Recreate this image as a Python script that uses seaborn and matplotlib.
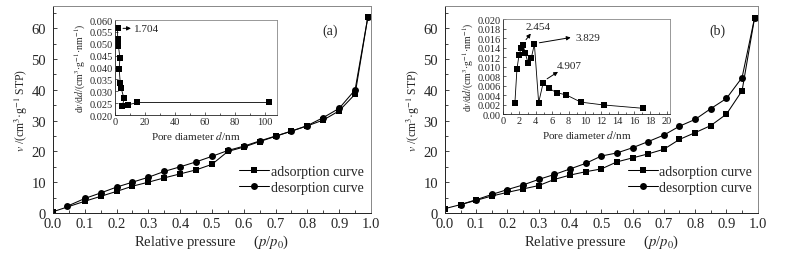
import numpy as np
import pandas as pd
import matplotlib
matplotlib.use('Agg')
import matplotlib.pyplot as plt
import seaborn as sns
from matplotlib.ticker import MultipleLocator

# isotherm data, panel (a)
p_ads_a = [0.0, 0.1, 0.15, 0.2, 0.25, 0.3, 0.35, 0.4, 0.45, 0.5, 0.55, 0.6, 0.65, 0.7, 0.75, 0.8, 0.85, 0.9, 0.95, 0.99]
v_ads_a = [0.4, 3.8, 5.4, 7.0, 8.7, 10.0, 11.4, 12.7, 14.0, 15.8, 20.0, 21.4, 23.2, 24.9, 26.6, 28.3, 30.2, 33.2, 38.6, 63.6]
p_des_a = [0.045, 0.1, 0.15, 0.2, 0.25, 0.3, 0.35, 0.4, 0.45, 0.5, 0.55, 0.6, 0.65, 0.7, 0.75, 0.8, 0.85, 0.9, 0.95, 0.99]
v_des_a = [2.2, 4.7, 6.5, 8.4, 10.0, 11.6, 13.5, 15.0, 16.6, 18.4, 20.3, 21.7, 23.4, 25.0, 26.6, 28.4, 31.0, 34.0, 40.0, 63.6]

# isotherm data, panel (b)
p_ads_b = [0.0, 0.05, 0.1, 0.15, 0.2, 0.25, 0.3, 0.35, 0.4, 0.45, 0.5, 0.55, 0.6, 0.65, 0.7, 0.75, 0.8, 0.85, 0.9, 0.95, 0.99]
v_ads_b = [1.4, 2.7, 4.1, 5.5, 6.7, 7.8, 8.9, 10.9, 12.3, 13.4, 14.3, 16.6, 17.9, 19.2, 20.7, 23.9, 26.1, 28.4, 32.1, 39.7, 63.4]
p_des_b = [0.05, 0.1, 0.15, 0.2, 0.25, 0.3, 0.35, 0.4, 0.45, 0.5, 0.55, 0.6, 0.65, 0.7, 0.75, 0.8, 0.85, 0.9, 0.95, 0.99]
v_des_b = [2.7, 4.3, 6.0, 7.6, 9.1, 10.9, 12.5, 14.3, 16.1, 18.5, 19.5, 21.2, 23.2, 25.3, 28.2, 30.4, 33.9, 37.2, 44.0, 63.4]

# pore size distributions (insets)
d_a = [1.704, 1.8, 2.0, 2.3, 3.3, 2.8, 3.5, 4.0, 6.0, 5.0, 8.8, 15.0, 102.8]
dv_a = [0.0565, 0.052, 0.051, 0.049, 0.044, 0.0395, 0.0335, 0.0315, 0.027, 0.0237, 0.0243, 0.0253, 0.0253]
d_b = [1.45, 1.7, 1.95, 2.2, 2.454, 2.7, 3.05, 3.45, 3.829, 4.35, 4.907, 5.6, 6.55, 7.75, 9.5, 12.3, 17.1]
dv_b = [0.0024, 0.0095, 0.0124, 0.0138, 0.0145, 0.0129, 0.0108, 0.0118, 0.0147, 0.0024, 0.0066,
        0.0054, 0.0045, 0.0040, 0.0025, 0.0019, 0.0012]

sns.set_style('ticks')
plt.rcParams['font.family'] = ['Liberation Serif', 'DejaVu Serif']
plt.rcParams['mathtext.fontset'] = 'stix'
plt.rcParams['xtick.direction'] = 'in'
plt.rcParams['ytick.direction'] = 'in'

fig = plt.figure(figsize=(7.86, 2.55), dpi=100)
ax_a = fig.add_axes([0.0674, 0.161, 0.4046, 0.812])
ax_b = fig.add_axes([0.566, 0.161, 0.398, 0.812])
in_a = fig.add_axes([0.1463, 0.545, 0.206, 0.3725])
in_b = fig.add_axes([0.640, 0.549, 0.2125, 0.3725])


def draw_main(ax, pa, va, pd_, vd, tag):
    sns.lineplot(x=pa, y=va, ax=ax, color='black', lw=0.75, marker='s', markersize=4.5,
                 markeredgewidth=0, sort=False, estimator=None, label='adsorption curve')
    sns.lineplot(x=pd_, y=vd, ax=ax, color='black', lw=0.75, marker='o', markersize=5,
                 markeredgewidth=0, sort=False, estimator=None, label='desorption curve')
    ax.set_xlim(0, 1.0)
    ax.set_ylim(0, 67.3)
    ax.xaxis.set_major_locator(MultipleLocator(0.1))
    ax.xaxis.set_minor_locator(MultipleLocator(0.05))
    ax.xaxis.set_major_formatter(plt.FuncFormatter(lambda v, p: '%.1f' % v))
    ax.yaxis.set_major_locator(MultipleLocator(10))
    ax.yaxis.set_minor_locator(MultipleLocator(5))
    ax.tick_params(which='both', direction='in', labelsize=10.5, length=3, width=0.6,
                   top=False, right=False)
    ax.tick_params(which='minor', length=2)
    ax.tick_params(axis='x', pad=3)
    ax.tick_params(axis='y', pad=5)
    ax.set_xlabel(r'Relative pressure     ($p$/$p_0$)', fontsize=10.5, labelpad=2)
    ax.set_ylabel(r'$v$ /(cm$^3$·g$^{-1}$ STP)', fontsize=8.5, labelpad=1)
    for s in ['left', 'bottom']:
        ax.spines[s].set_color('#222222')
        ax.spines[s].set_linewidth(0.7)
    for s in ['top', 'right']:
        ax.spines[s].set_color('#888888')
        ax.spines[s].set_linewidth(0.7)
    ax.text(0.87, 59.5, tag, fontsize=10, ha='center', va='center')
    leg = ax.legend(loc='upper left', bbox_to_anchor=(0.575, 0.245), frameon=True, fontsize=10,
                    handlelength=2.2, handletextpad=0.1, borderpad=0.2, labelspacing=0.2,
                    borderaxespad=0)
    leg.get_frame().set_facecolor('white')
    leg.get_frame().set_edgecolor('none')
    leg.get_frame().set_alpha(1)


draw_main(ax_a, p_ads_a, v_ads_a, p_des_a, v_des_a, '(a)')
draw_main(ax_b, p_ads_b, v_ads_b, p_des_b, v_des_b, '(b)')


def style_inset(ax):
    ax.tick_params(which='both', direction='in', labelsize=7.5, length=2.5, width=0.5,
                   top=False, right=False, pad=1.5)
    ax.tick_params(which='minor', length=1.5)
    for s in ['left', 'bottom']:
        ax.spines[s].set_color('#222222')
        ax.spines[s].set_linewidth(0.6)
    for s in ['top', 'right']:
        ax.spines[s].set_color('#888888')
        ax.spines[s].set_linewidth(0.6)
    ax.set_xlabel(r'Pore diameter $d$/nm', fontsize=8, labelpad=2)
    ax.set_ylabel(r'd$v$/d$d$/(cm$^3$·g$^{-1}$·nm$^{-1}$)', fontsize=7, labelpad=1)
    if ax.get_legend() is not None:
        ax.get_legend().remove()


arrow = dict(arrowstyle='-|>', color='black', lw=0.7, mutation_scale=6)

sns.lineplot(x=d_a, y=dv_a, ax=in_a, color='black', lw=0.6, marker='s', markersize=4,
             markeredgewidth=0, sort=False, estimator=None)
in_a.set_xlim(0, 108)
in_a.set_ylim(0.020, 0.060)
in_a.xaxis.set_major_locator(MultipleLocator(20))
in_a.xaxis.set_minor_locator(MultipleLocator(10))
in_a.yaxis.set_major_locator(MultipleLocator(0.005))
in_a.yaxis.set_major_formatter(plt.FuncFormatter(lambda v, p: '%.3f' % v))
style_inset(in_a)
in_a.annotate('', xy=(12.5, 0.0565), xytext=(3.5, 0.0565), arrowprops=arrow)
in_a.text(13, 0.0565, '1.704', fontsize=8, va='center')

sns.lineplot(x=d_b, y=dv_b, ax=in_b, color='black', lw=0.6, marker='s', markersize=4,
             markeredgewidth=0, sort=False, estimator=None)
in_b.set_xlim(0, 20.4)
in_b.set_ylim(0, 0.020)
in_b.xaxis.set_major_locator(MultipleLocator(2))
in_b.xaxis.set_minor_locator(MultipleLocator(1))
in_b.yaxis.set_major_locator(MultipleLocator(0.002))
in_b.yaxis.set_major_formatter(plt.FuncFormatter(lambda v, p: '0.00' if abs(v) < 1e-9 else '%.3f' % v))
style_inset(in_b)
in_b.annotate('', xy=(3.6, 0.0174), xytext=(2.6, 0.0152), arrowprops=arrow)
in_b.text(2.8, 0.0185, '2.454', fontsize=8, va='center')
in_b.annotate('', xy=(8.6, 0.0162), xytext=(4.1, 0.0149), arrowprops=arrow)
in_b.text(8.8, 0.0161, '3.829', fontsize=8, va='center')
in_b.annotate('', xy=(7.0, 0.0092), xytext=(5.1, 0.0071), arrowprops=arrow)
in_b.text(6.6, 0.0103, '4.907', fontsize=8, va='center')

fig.savefig('out.png', dpi=100)
